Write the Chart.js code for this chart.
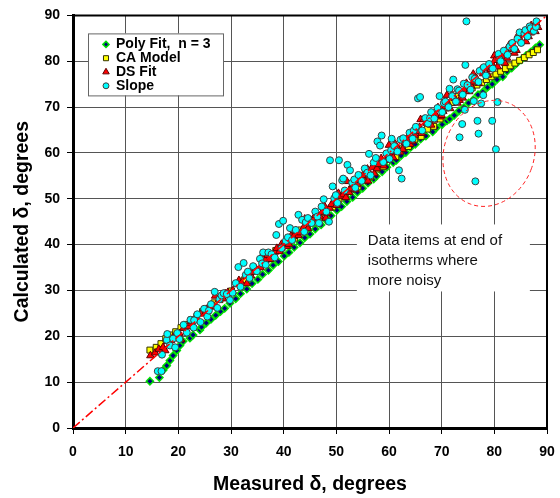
<!DOCTYPE html>
<html>
<head>
<meta charset="utf-8">
<script src="https://cdn.jsdelivr.net/npm/chart.js@4.4.1/dist/chart.umd.min.js"></script>
<style>
  html, body { margin: 0; padding: 0; background: #fff; }
  #wrap { width: 560px; height: 498px; }
</style>
</head>
<body>
<div id="wrap"><canvas id="chart" width="560" height="498"></canvas></div>
<script>
// --- data (measured vs calculated contact angle) ---
const xTicks = [0, 10, 20, 30, 40, 50, 60, 70, 80, 90];
const yTicks = [0, 10, 20, 30, 40, 50, 60, 70, 80, 90];

const seriesNames = ['Poly Fit,  n = 3', 'CA Model', 'DS Fit', 'Slope'];

const polyFit = [
  [14.6,10.2],[16.4,11.0],[17.1,12.6],[17.8,13.6],[18.4,14.7],[19.0,15.8],[19.7,16.9],[20.3,18.0],
  [20.9,18.9],[22.2,19.6],[22.8,20.3],[24.1,21.4],[24.4,22.0],[25.3,22.9],[26.2,23.7],[27.1,24.6],
  [28.0,25.4],[28.8,26.1],[29.8,27.2],[30.9,28.2],[31.8,29.3],[33.0,30.3],[34.0,31.5],[35.1,32.4],
  [36.0,33.5],[37.1,34.4],[38.0,35.5],[39.0,36.3],[40.1,37.5],[41.0,38.3],[42.0,39.4],[43.1,40.4],
  [44.0,41.5],[45.0,42.3],[46.0,43.4],[47.1,44.3],[48.0,45.4],[49.0,46.3],[50.1,47.5],[51.0,48.3],
  [52.0,49.4],[53.1,50.3],[54.0,51.4],[55.0,52.3],[56.0,53.4],[57.1,54.3],[57.6,54.9],[58.7,55.9],
  [59.6,56.9],[60.8,57.9],[61.4,58.4],[62.3,59.4],[63.2,60.1],[64.1,61.2],[65.0,61.9],[66.0,63.0],
  [67.0,63.7],[68.3,64.6],[69.0,65.5],[70.1,66.2],[71.0,67.0],[71.5,67.4],[72.4,68.2],[73.3,69.2],
  [74.2,69.9],[75.1,70.9],[76.0,71.6],[76.9,72.7],[77.8,73.3],[78.7,74.3],[79.6,75.0],[80.5,76.0],
  [81.6,76.6],[82.4,77.8],[83.3,78.5],[84.2,79.5],[85.1,80.3],[86.0,81.2],[86.9,82.0],[87.8,82.9],[88.6,83.6]
];

const caModel = [
  [14.6,17.0],[15.8,17.6],[16.7,18.4],[17.6,19.5],[18.6,20.3],[19.5,21.0],[20.5,21.9],[21.5,22.6],
  [22.5,23.6],[23.5,24.3],[24.6,25.4],[25.7,26.1],[26.8,27.3],[27.9,28.0],[29.0,29.4],[30.1,29.9],
  [31.3,31.5],[32.5,32.3],[33.7,33.9],[34.9,34.6],[36.1,36.3],[37.3,36.9],[38.5,38.7],[39.7,39.3],
  [40.9,41.0],[42.1,41.4],[43.3,43.2],[44.5,43.8],[45.7,45.5],[46.9,46.0],[48.1,47.7],[49.3,48.2],
  [50.5,49.9],[51.7,50.4],[52.9,52.1],[54.1,52.6],[55.3,54.3],[56.5,54.8],[57.7,56.5],[58.9,57.0],
  [60.1,58.7],[61.3,59.2],[62.5,60.9],[63.7,61.4],[64.9,63.0],[66.1,63.6],[67.3,65.2],[68.5,65.8],
  [69.7,67.4],[70.9,69.8],[72.1,71.0],[73.1,72.3],[74.0,73.0],[74.9,73.6],[75.8,74.2],[76.7,74.8],
  [77.6,75.3],[78.5,76.0],[79.4,76.6],[80.3,77.2],[81.2,77.8],[82.1,78.4],[83.0,79.0],[83.9,79.6],
  [84.8,80.2],[85.7,80.8],[86.6,81.4],[87.4,81.9],[88.2,82.5]
];

const dsFit = [
  [14.7,15.8],[15.6,16.4],[16.3,17.2],[17.1,17.6],[17.5,16.9],[17.9,18.9],[18.6,19.1],[19.0,19.8],
  [19.4,20.2],[20.2,20.6],[20.5,19.3],[21.0,21.8],[21.8,22.1],[22.2,22.9],[22.6,23.3],[23.4,23.6],
  [24.3,24.9],[25.1,25.0],[25.5,26.0],[26.0,26.4],[26.8,26.5],[27.0,28.8],[27.7,28.0],[28.5,28.2],
  [28.9,29.3],[29.4,29.6],[30.3,29.9],[31.1,31.3],[31.5,32.2],[32.0,31.6],[32.9,33.1],[33.0,31.5],
  [33.8,33.2],[34.2,34.0],[34.7,34.8],[35.6,35.0],[36.0,37.8],[36.5,36.6],[37.0,37.7],[37.4,36.8],
  [38.3,38.4],[38.7,39.2],[39.2,38.5],[39.6,40.1],[40.1,40.2],[40.6,39.6],[41.0,40.1],[41.4,41.9],
  [41.9,41.8],[42.3,43.0],[42.8,42.0],[43.2,42.6],[43.7,43.6],[44.0,45.6],[44.6,43.5],[45.0,44.6],
  [45.5,45.3],[46.0,46.4],[46.4,45.2],[46.9,46.1],[47.3,47.1],[47.8,48.3],[48.0,45.8],[48.2,46.9],
  [48.7,48.0],[49.1,48.8],[49.6,49.6],[50.0,48.6],[50.4,51.2],[50.9,50.5],[51.3,50.9],[51.8,50.3],
  [52.0,53.8],[52.4,51.4],[52.7,52.2],[53.1,53.1],[53.6,52.0],[54.0,53.2],[54.5,54.0],[55.0,55.1],
  [55.4,53.8],[55.9,56.5],[56.0,53.9],[56.3,55.6],[56.8,56.9],[57.2,55.5],[57.7,56.6],[58.1,57.5],
  [58.5,58.8],[59.0,57.2],[59.5,58.4],[59.9,59.3],[60.0,61.7],[60.4,60.0],[60.8,59.0],[61.2,61.9],
  [61.7,61.0],[62.1,60.2],[62.6,60.8],[63.0,62.3],[63.5,62.9],[63.9,64.1],[64.0,61.9],[64.4,62.6],
  [64.9,63.9],[65.3,64.7],[65.8,65.6],[66.0,67.3],[66.2,64.3],[66.6,67.3],[67.1,66.5],[67.6,67.4],
  [68.0,66.1],[68.5,67.2],[68.9,68.3],[69.3,69.9],[69.8,67.9],[70.0,68.2],[70.3,69.1],[70.7,70.1],
  [71.0,72.6],[71.2,70.8],[71.6,69.7],[72.0,72.8],[72.5,71.9],[73.0,70.9],[73.4,71.5],[73.8,72.9],
  [74.0,72.0],[74.3,73.7],[74.7,75.2],[75.2,73.4],[75.6,74.6],[76.0,77.2],[76.1,75.5],[76.6,76.3],
  [77.0,75.2],[77.4,78.1],[77.9,77.3],[78.4,78.4],[78.8,77.0],[79.3,78.2],[79.7,79.1],[80.0,81.2],
  [80.1,80.2],[80.6,78.8],[81.1,79.9],[81.5,80.9],[82.0,79.6],[82.4,80.7],[82.8,83.5],[83.3,82.6],
  [83.8,81.8],[84.2,82.4],[84.5,85.7],[85.1,84.4],[85.5,86.0],[86.0,84.3],[86.5,85.4],[86.9,86.2],
  [87.0,87.8],[87.8,86.5],[88.0,88.2],[88.3,87.4]
];

const slope = [
  [16.1,12.4],[16.8,12.4],[16.9,16.0],[17.8,19.2],[17.9,20.5],[18.4,18.0],[19.0,19.5],[19.4,17.6],
  [19.8,20.7],[20.2,19.4],[21.0,22.5],[21.6,20.8],[22.3,23.6],[22.9,21.9],[23.0,23.5],[23.6,24.8],
  [24.2,23.1],[24.9,26.0],[25.5,24.3],[25.8,25.6],[26.2,27.0],[26.9,29.7],[27.4,26.2],[27.8,28.1],
  [28.2,28.9],[28.6,29.4],[29.2,29.2],[29.8,27.9],[30.3,29.5],[30.9,31.6],[31.4,35.1],[31.8,30.8],
  [32.4,36.0],[32.8,33.4],[33.2,34.1],[33.5,32.7],[34.2,35.3],[34.9,34.2],[35.5,36.9],[35.9,35.9],
  [36.1,38.3],[36.6,35.6],[37.1,38.3],[37.7,37.9],[38.3,37.2],[38.6,42.1],[39.1,44.5],[39.6,39.2],
  [39.9,45.2],[40.4,40.8],[40.8,41.6],[41.2,43.6],[41.6,41.0],[42.3,43.2],[42.8,46.5],[43.5,45.4],
  [43.9,42.8],[44.2,44.9],[44.6,45.8],[45.3,44.7],[46.0,47.2],[46.4,46.1],[46.7,44.7],[47.2,48.3],
  [47.6,49.9],[48.1,47.2],[48.6,45.0],[48.8,58.4],[49.3,52.7],[49.6,50.1],[49.9,50.8],[50.2,49.1],
  [50.5,58.4],[51.1,54.0],[51.3,54.4],[51.6,51.8],[52.1,57.4],[52.6,56.2],[53.0,53.5],[53.4,54.2],
  [53.6,52.4],[54.2,55.2],[54.8,53.9],[55.4,56.6],[55.9,55.7],[56.2,59.8],[56.5,55.1],[57.1,57.9],
  [57.5,58.9],[57.8,62.5],[58.3,61.6],[58.6,63.8],[58.9,58.0],[59.5,59.9],[60.1,58.7],[60.4,60.6],
  [60.5,63.1],[61.0,61.5],[61.6,60.3],[61.9,56.2],[62.2,62.9],[62.4,54.4],[62.7,63.2],[63.3,62.0],
  [63.9,64.4],[64.5,63.1],[64.7,64.9],[65.1,65.7],[65.5,71.9],[65.9,72.2],[66.3,64.9],[66.9,67.6],
  [67.4,66.4],[67.8,67.6],[68.0,68.9],[68.6,67.5],[69.2,69.8],[69.6,72.4],[70.1,68.9],[70.4,70.9],
  [70.7,71.2],[71.3,70.0],[71.5,74.0],[72.0,72.4],[72.2,76.0],[72.7,71.2],[73.0,73.9],[73.4,63.4],
  [73.9,66.3],[73.3,73.6],[74.0,72.7],[74.2,75.1],[74.4,69.4],[74.5,79.2],[74.7,88.7],[74.9,74.8],
  [75.5,73.8],[75.8,76.5],[76.1,71.3],[76.3,76.2],[76.4,53.8],[76.8,67.0],[77.0,64.2],[77.0,75.5],
  [77.2,77.9],[77.5,70.8],[77.9,72.6],[78.0,78.7],[78.4,76.9],[79.0,79.4],[79.6,67.0],[79.7,78.4],
  [80.3,60.8],[80.6,71.1],[80.8,81.6],[81.0,80.4],[81.2,80.0],[81.8,82.3],[82.5,81.4],[82.9,83.2],
  [83.4,84.0],[83.8,82.7],[84.4,84.9],[84.8,86.3],[85.1,84.0],[85.7,86.0],[85.9,86.8],[86.3,85.4],
  [86.7,87.6],[86.9,87.2],[87.5,86.6],[87.9,87.5],[88.0,88.7]
];

const parityLine = [[0, 0], [90, 90]];

// annotation: ellipse round the noisy points and its note
const noteEllipse = { cx: 79.0, cy: 59.9, rx: 45, ry: 54, rot: 0.35 };
const noteText = ['Data items at end of', 'isotherms where', 'more noisy'];
const noteBox = { x: 53.9, y: 44.4, w: 173, h: 67 };

const FONT = "'Liberation Sans', Arial, sans-serif";

const toPts = arr => arr.map(p => ({ x: p[0], y: p[1] }));

const styles = [
  { pointStyle: 'rectRot', radius: 3.6, bg: '#000080', border: '#00e000', bw: 1.5 },
  { pointStyle: 'rect', radius: 4.2, bg: '#ffff00', border: '#333300', bw: 1 },
  { pointStyle: 'triangle', radius: 4.4, bg: '#ff0000', border: '#600000', bw: 1 },
  { pointStyle: 'circle', radius: 3.5, bg: '#00ffff', border: '#404040', bw: 1 }
];

const seriesData = [polyFit, caModel, dsFit, slope];
const drawOrder = [4, 3, 2, 1];

const datasets = seriesData.map((d, i) => ({
  type: 'scatter',
  label: seriesNames[i],
  data: toPts(d),
  pointStyle: styles[i].pointStyle,
  pointRadius: styles[i].radius,
  pointBackgroundColor: styles[i].bg,
  pointBorderColor: styles[i].border,
  pointBorderWidth: styles[i].bw,
  order: drawOrder[i]
}));

datasets.push({
  type: 'line',
  label: 'y = x',
  data: toPts(parityLine),
  borderColor: '#ff0000',
  borderWidth: 1.5,
  borderDash: [9, 3, 2, 3],
  pointRadius: 0,
  order: 0
});

// --- frame, legend box and note ---
const overlay = {
  id: 'overlay',
  afterDatasetsDraw(chart) {
    const { ctx, scales: { x, y } } = chart;
    ctx.save();
    ctx.strokeStyle = '#ff2020';
    ctx.lineWidth = 1;
    ctx.setLineDash([4, 3]);
    ctx.beginPath();
    ctx.ellipse(x.getPixelForValue(noteEllipse.cx), y.getPixelForValue(noteEllipse.cy),
      noteEllipse.rx, noteEllipse.ry, noteEllipse.rot, 0, Math.PI * 2);
    ctx.stroke();
    ctx.setLineDash([]);

    const bx = x.getPixelForValue(noteBox.x), by = y.getPixelForValue(noteBox.y);
    ctx.fillStyle = '#fff';
    ctx.fillRect(bx, by, noteBox.w, noteBox.h);
    ctx.fillStyle = '#111';
    ctx.font = '15px ' + FONT;
    ctx.textBaseline = 'middle';
    noteText.forEach((t, i) => ctx.fillText(t, bx + 11, by + 16 + i * 20));
    ctx.restore();
  },
  afterDraw(chart) {
    const { ctx, chartArea: a } = chart;
    ctx.save();
    ctx.strokeStyle = '#000';
    ctx.lineWidth = 2;
    ctx.beginPath();
    ctx.moveTo(a.left, a.top);
    ctx.lineTo(a.right, a.top);
    ctx.lineTo(a.right, a.bottom);
    ctx.stroke();

    // legend inside the plot
    const lx = a.left + 15, ly = a.top + 18;
    ctx.fillStyle = '#fff';
    ctx.fillRect(lx, ly, 135, 62);
    ctx.strokeStyle = '#666';
    ctx.lineWidth = 1;
    ctx.strokeRect(lx + 0.5, ly + 0.5, 135, 62);
    ctx.font = 'bold 14px ' + FONT;
    ctx.textBaseline = 'middle';
    seriesNames.forEach((name, i) => {
      const yy = ly + 11 + i * 13.8;
      const s = styles[i];
      ctx.fillStyle = s.bg;
      ctx.strokeStyle = s.border;
      ctx.lineWidth = s.bw;
      Chart.helpers.drawPoint(ctx, { pointStyle: s.pointStyle, radius: s.radius * 0.85, rotation: 0, borderWidth: s.bw }, lx + 18, yy);
      ctx.fillStyle = '#000';
      ctx.fillText(name, lx + 28, yy);
    });
    ctx.restore();
  }
};

const tickFont = { family: FONT, size: 14, weight: 'bold' };
const xTickFont = { family: FONT, size: 14, weight: 'bold', lineHeight: 1.9 };
const titleFont = { family: FONT, size: 19.5, weight: 'bold' };

new Chart(document.getElementById('chart'), {
  data: { datasets },
  options: {
    responsive: false,
    animation: false,
    devicePixelRatio: 1,
    layout: { padding: { top: 12, right: 13, left: 0, bottom: 0 } },
    plugins: { legend: { display: false }, tooltip: { enabled: false } },
    scales: {
      x: {
        type: 'linear', min: 0, max: 90,
        afterBuildTicks: ax => { ax.ticks = xTicks.map(v => ({ value: v })); },
        afterFit: ax => { ax.height = 70; },
        ticks: { color: '#000', font: xTickFont, padding: 5 },
        grid: { color: '#555', lineWidth: 1, tickLength: 6, tickColor: '#000' },
        border: { color: '#000', width: 3 },
        title: { display: true, text: 'Measured δ, degrees', color: '#000', font: titleFont, padding: { top: 0, bottom: 2 } }
      },
      y: {
        type: 'linear', min: 0, max: 90,
        afterBuildTicks: ax => { ax.ticks = yTicks.map(v => ({ value: v })); },
        afterFit: ax => { ax.width = 73; },
        ticks: { color: '#000', font: tickFont, padding: 7 },
        grid: { color: '#555', lineWidth: 1, tickLength: 6, tickColor: '#000' },
        border: { color: '#000', width: 3 },
        title: { display: true, text: 'Calculated δ, degrees', color: '#000', font: titleFont, padding: { top: 11, bottom: 0 } }
      }
    }
  },
  plugins: [overlay]
});
</script>
</body>
</html>
